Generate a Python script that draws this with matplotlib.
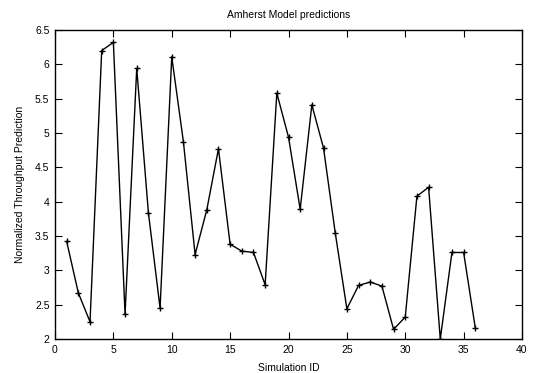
import matplotlib
matplotlib.use("Agg")
import matplotlib.pyplot as plt

plt.rcParams['font.family'] = ['Liberation Sans', 'DejaVu Sans']

sim_ids = list(range(1, 37))
predictions = [3.42, 2.67, 2.25, 6.20, 6.32, 2.36, 5.94, 3.84, 2.45, 6.11,
               4.87, 3.23, 3.88, 4.77, 3.38, 3.28, 3.26, 2.79, 5.58, 4.94,
               3.89, 5.41, 4.78, 3.55, 2.44, 2.78, 2.83, 2.77, 2.14, 2.32,
               4.08, 4.21, 2.00, 3.26, 3.26, 2.16]
x_ticks = [0, 5, 10, 15, 20, 25, 30, 35, 40]
y_ticks = [2, 2.5, 3, 3.5, 4, 4.5, 5, 5.5, 6, 6.5]
y_tick_labels = ['2', '2.5', '3', '3.5', '4', '4.5', '5', '5.5', '6', '6.5']

fig = plt.figure(figsize=(5.33, 3.73), dpi=100)
ax = fig.add_axes([55/533, 1 - 339/373, (522-55)/533, (339-30)/373])

ax.plot(sim_ids, predictions, color='black', linewidth=1.0,
        marker='+', markersize=5, markeredgewidth=1.0)

ax.set_xlim(0, 40)
ax.set_ylim(2, 6.5)
ax.set_xticks(x_ticks)
ax.set_yticks(y_ticks)
ax.set_yticklabels(y_tick_labels)
ax.tick_params(direction='in', length=5, width=0.8, labelsize=7.5,
               top=True, right=True, pad=4)
for s in ax.spines.values():
    s.set_linewidth(1.0)

ax.set_title('Amherst Model predictions', fontsize=7.5, pad=8.5)
ax.set_xlabel('Simulation ID', fontsize=7.5, labelpad=6)
ax.set_ylabel('Normalized Throughput Prediction', fontsize=7.5, labelpad=7)

fig.savefig('out.png', dpi=100)
